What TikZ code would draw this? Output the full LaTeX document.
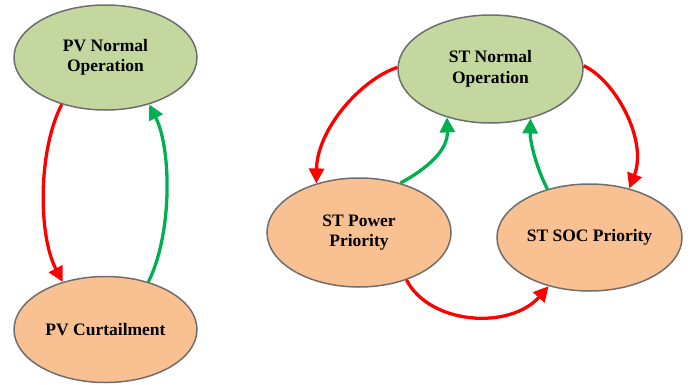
\documentclass[tikz,border=0pt]{standalone}
\usepackage{fontspec}
\setmainfont{Liberation Serif}
\usetikzlibrary{shapes.geometric,arrows.meta}
\definecolor{ngreen}{HTML}{C4D79F}
\definecolor{norange}{HTML}{F9C191}
\definecolor{eborder}{HTML}{6E6E6E}
\definecolor{ared}{HTML}{FF0000}
\definecolor{agreen}{HTML}{00B050}
\tikzset{
  state/.style={ellipse, draw=eborder, line width=1.5pt, inner sep=0pt,
    align=center, font=\bfseries\fontsize{17.5}{20.5}\selectfont},
  normal/.style={state, fill=ngreen},
  prio/.style={state, fill=norange},
  conn/.style={line width=3.3pt, -{Triangle[length=15pt,width=15pt]}},
  redc/.style={conn, color=ared},
  greenc/.style={conn, color=agreen}
}
\begin{document}
\begin{tikzpicture}[x=1pt,y=-1pt]
\useasboundingbox (0,0) rectangle (697,384);
\node[normal, minimum width=183pt, minimum height=105pt] (pvn) at (105.5,57.5) {PV Normal\\Operation};
\node[prio, minimum width=183pt, minimum height=106pt] (pvc) at (105.5,329.5) {PV Curtailment};
\node[normal, minimum width=185pt, minimum height=108pt] (stn) at (490.5,69) {ST Normal\\Operation};
\node[prio, minimum width=184pt, minimum height=109pt] (stp) at (359,232.5) {ST Power\\Priority};
\node[prio, minimum width=185pt, minimum height=107pt] (sts) at (589.5,237.5) {ST SOC Priority};
% PV loop
\draw[redc] (pvn.227) .. controls (38,150) and (38,235) .. (pvc.132);
\draw[greenc] (pvc.48) .. controls (172,235) and (172,150) .. (pvn.313);
% ST loop
\draw[redc] (stn.179) .. controls (360,80) and (317,130) .. (stp.131);
\draw[greenc] (stp.50) .. controls (428,168) and (448,150) .. (stn.228);
\draw[greenc] (sts.131) .. controls (535,165) and (530,140) .. (stn.309);
\draw[redc] (stn.2) .. controls (615,80) and (648,140) .. (sts.51);
\draw[redc] (stp.315) .. controls (430,325) and (510,330) .. (sts.230);
\end{tikzpicture}
\end{document}
